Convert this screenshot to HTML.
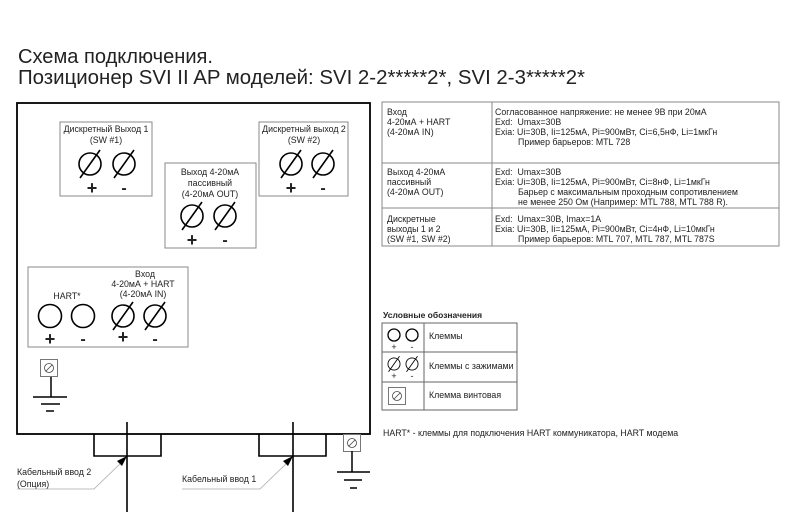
<!DOCTYPE html>
<html><head><meta charset="utf-8"><style>
html,body{margin:0;padding:0;background:#fff;}
svg{display:block;}
text{font-family:"Liberation Sans",Arial,sans-serif;fill:#222;}
.s{font-size:8.8px;}
</style></head><body>
<svg width="800" height="528" viewBox="0 0 800 528" xmlns="http://www.w3.org/2000/svg">
<defs>
<g id="ct"><circle r="11" fill="none" stroke="#000" stroke-width="1.6"/><line x1="-10" y1="14" x2="10" y2="-14" stroke="#000" stroke-width="1.6"/></g>
<g id="sc"><rect x="-8.5" y="-8.5" width="17" height="17" fill="#fff" stroke="#777" stroke-width="1"/><circle r="4.5" fill="none" stroke="#444" stroke-width="0.8"/><line x1="-3" y1="3" x2="3" y2="-3" stroke="#444" stroke-width="0.8"/></g>
</defs>
<text x="18" y="63" font-size="20" textLength="195" lengthAdjust="spacingAndGlyphs">Схема подключения.</text>
<text x="18" y="84" font-size="20" textLength="567" lengthAdjust="spacingAndGlyphs">Позиционер SVI II AP моделей: SVI 2-2*****2*, SVI 2-3*****2*</text>

<rect x="17" y="103" width="353" height="331" fill="none" stroke="#000" stroke-width="1.8"/>

<!-- SW1 -->
<rect x="60" y="122" width="92" height="74" fill="none" stroke="#888" stroke-width="1"/>
<text class="s" x="106" y="132" text-anchor="middle">Дискретный Выход 1</text>
<text class="s" x="106" y="143" text-anchor="middle">(SW #1)</text>
<use href="#ct" x="90" y="164"/><use href="#ct" x="124" y="164"/>
<text x="92" y="194" font-size="18" text-anchor="middle" font-weight="bold">+</text>
<text x="124" y="193" font-size="16" text-anchor="middle" font-weight="bold">-</text>

<!-- SW2 -->
<rect x="259" y="122" width="89" height="74" fill="none" stroke="#888" stroke-width="1"/>
<text class="s" x="304" y="132" text-anchor="middle">Дискретный выход 2</text>
<text class="s" x="304" y="143" text-anchor="middle">(SW #2)</text>
<use href="#ct" x="291" y="164"/><use href="#ct" x="323" y="164"/>
<text x="291" y="194" font-size="18" text-anchor="middle" font-weight="bold">+</text>
<text x="323" y="193" font-size="16" text-anchor="middle" font-weight="bold">-</text>

<!-- OUT -->
<rect x="165" y="163" width="91" height="85" fill="none" stroke="#888" stroke-width="1"/>
<text class="s" x="210" y="175" text-anchor="middle">Выход 4-20мА</text>
<text class="s" x="210" y="186" text-anchor="middle">пассивный</text>
<text class="s" x="210" y="197" text-anchor="middle">(4-20мА OUT)</text>
<use href="#ct" x="192" y="216"/><use href="#ct" x="225" y="216"/>
<text x="192" y="246" font-size="18" text-anchor="middle" font-weight="bold">+</text>
<text x="225" y="245" font-size="16" text-anchor="middle" font-weight="bold">-</text>

<!-- IN -->
<rect x="28" y="267" width="160" height="80" fill="none" stroke="#888" stroke-width="1"/>
<text class="s" x="145" y="277" text-anchor="middle">Вход</text>
<text class="s" x="143" y="287" text-anchor="middle">4-20мА + HART</text>
<text class="s" x="143" y="297" text-anchor="middle">(4-20мА IN)</text>
<text class="s" x="67" y="299" text-anchor="middle">HART*</text>
<circle cx="50" cy="316" r="11.5" fill="none" stroke="#000" stroke-width="1.6"/>
<circle cx="83" cy="316" r="11.5" fill="none" stroke="#000" stroke-width="1.6"/>
<use href="#ct" x="123" y="316"/><use href="#ct" x="155" y="316"/>
<text x="50" y="345" font-size="18" text-anchor="middle" font-weight="bold">+</text>
<text x="83" y="344" font-size="16" text-anchor="middle" font-weight="bold">-</text>
<text x="123" y="343" font-size="18" text-anchor="middle" font-weight="bold">+</text>
<text x="155" y="344" font-size="16" text-anchor="middle" font-weight="bold">-</text>

<!-- ground left -->
<use href="#sc" x="49" y="368"/>
<line x1="51" y1="377" x2="51" y2="397" stroke="#000" stroke-width="1.5"/>
<line x1="33" y1="397" x2="67" y2="397" stroke="#000" stroke-width="1.5"/>
<line x1="41" y1="404" x2="60" y2="404" stroke="#000" stroke-width="1.5"/>
<line x1="46" y1="411" x2="54" y2="411" stroke="#000" stroke-width="1.5"/>

<!-- ground right -->
<use href="#sc" x="352" y="443"/>
<line x1="352" y1="451" x2="352" y2="472" stroke="#000" stroke-width="1.5"/>
<line x1="337" y1="472" x2="370" y2="472" stroke="#000" stroke-width="1.5"/>
<line x1="344" y1="480" x2="362" y2="480" stroke="#000" stroke-width="1.5"/>
<line x1="350" y1="488" x2="357" y2="488" stroke="#000" stroke-width="1.5"/>

<!-- cable entries -->
<polyline points="94,434 94,456 161,456 161,434" fill="none" stroke="#000" stroke-width="1.6"/>
<line x1="127" y1="422" x2="127" y2="512" stroke="#000" stroke-width="1.6"/>
<polyline points="259,434 259,456 326,456 326,434" fill="none" stroke="#000" stroke-width="1.6"/>
<line x1="293" y1="422" x2="293" y2="512" stroke="#000" stroke-width="1.6"/>

<polyline points="17,489 94,489 124,460" fill="none" stroke="#aaa" stroke-width="0.8"/>
<polygon points="127,456 117,461 122,466" fill="#000"/>
<polyline points="182,489 260,489 290,460" fill="none" stroke="#aaa" stroke-width="0.8"/>
<polygon points="293,456 283,461 288,466" fill="#000"/>
<text class="s" x="17" y="475">Кабельный ввод 2</text>
<text class="s" x="17" y="487">(Опция)</text>
<text class="s" x="182" y="482">Кабельный ввод 1</text>

<!-- spec table -->
<g stroke="#888" stroke-width="1" fill="none">
<rect x="382" y="102" width="397" height="144"/>
<line x1="492" y1="102" x2="492" y2="246"/>
<line x1="382" y1="163" x2="779" y2="163"/>
<line x1="382" y1="208" x2="779" y2="208"/>
</g>
<text class="s" x="387" y="115">Вход</text>
<text class="s" x="387" y="125">4-20мА + HART</text>
<text class="s" x="387" y="135">(4-20мА IN)</text>
<text class="s" x="495" y="115">Согласованное напряжение: не менее 9В при 20мА</text>
<text class="s" x="495" y="125">Exd:&#160; Umax=30В</text>
<text class="s" x="495" y="135">Exia: Ui=30В, Ii=125мА, Pi=900мВт, Ci=6,5нФ, Li=1мкГн</text>
<text class="s" x="518" y="145">Пример барьеров: MTL 728</text>

<text class="s" x="387" y="175">Выход 4-20мА</text>
<text class="s" x="387" y="185">пассивный</text>
<text class="s" x="387" y="195">(4-20мА OUT)</text>
<text class="s" x="495" y="175">Exd:&#160; Umax=30В</text>
<text class="s" x="495" y="185">Exia: Ui=30В, Ii=125мА, Pi=900мВт, Ci=8нФ, Li=1мкГн</text>
<text class="s" x="518" y="195">Барьер с максимальным проходным сопротивлением</text>
<text class="s" x="518" y="205">не менее 250 Ом (Например: MTL 788, MTL 788 R).</text>

<text class="s" x="387" y="222">Дискретные</text>
<text class="s" x="387" y="232">выходы 1 и 2</text>
<text class="s" x="387" y="242">(SW #1, SW #2)</text>
<text class="s" x="495" y="222">Exd:&#160; Umax=30В, Imax=1А</text>
<text class="s" x="495" y="232">Exia: Ui=30В, Ii=125мА, Pi=900мВт, Ci=4нФ, Li=10мкГн</text>
<text class="s" x="518" y="242">Пример барьеров: MTL 707, MTL 787, MTL 787S</text>

<!-- legend -->
<text x="383" y="318" font-size="8.5" font-weight="bold">Условные обозначения</text>
<g stroke="#666" stroke-width="1" fill="none">
<rect x="382" y="323" width="135" height="87"/>
<line x1="424" y1="323" x2="424" y2="410"/>
<line x1="382" y1="352" x2="517" y2="352"/>
<line x1="382" y1="382" x2="517" y2="382"/>
</g>
<circle cx="394" cy="335" r="6" fill="none" stroke="#000" stroke-width="1.3"/>
<circle cx="412" cy="335" r="6" fill="none" stroke="#000" stroke-width="1.3"/>
<text x="394" y="350" font-size="9" text-anchor="middle">+</text>
<text x="412" y="350" font-size="9" text-anchor="middle">-</text>
<g transform="translate(394,364) scale(0.55)"><use href="#ct"/></g>
<g transform="translate(412,364) scale(0.55)"><use href="#ct"/></g>
<text x="394" y="379" font-size="9" text-anchor="middle">+</text>
<text x="412" y="379" font-size="9" text-anchor="middle">-</text>
<use href="#sc" x="397" y="396"/>
<text class="s" x="429" y="339">Клеммы</text>
<text class="s" x="429" y="369">Клеммы с зажимами</text>
<text class="s" x="429" y="398">Клемма винтовая</text>
<text class="s" x="383" y="436">HART* - клеммы для подключения HART коммуникатора, HART модема</text>
</svg>
</body></html>
